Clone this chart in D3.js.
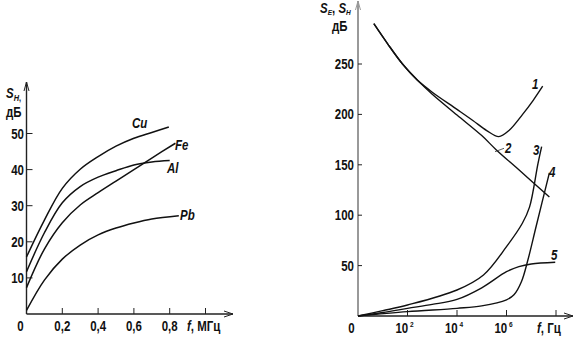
<!DOCTYPE html>
<html><head><meta charset="utf-8">
<script src="https://cdn.jsdelivr.net/npm/d3@7/dist/d3.min.js"></script>
<style>
body{margin:0;background:#fff;}
svg{display:block;}
text{font-family:"Liberation Sans Narrow","Arial Narrow","Liberation Sans",Arial,sans-serif;font-weight:bold;fill:#111;}
</style></head><body>
<svg id="c" width="578" height="338"></svg>
<script>
// ---------- Left chart data (S_H, dB vs f, MHz) ----------
const leftSeries = ["Cu", "Fe", "Al", "Pb"];
const cuF = [0, 0.1, 0.2, 0.3, 0.4, 0.5, 0.6, 0.7, 0.795];
const cuS = [15.8, 26.0, 34.8, 40.1, 43.6, 46.5, 48.7, 50.3, 51.8];
const feF = [0, 0.1, 0.2, 0.3, 0.4, 0.5, 0.6, 0.7, 0.832];
const feS = [7.3, 18.0, 25.3, 30.2, 33.6, 36.8, 40.0, 43.2, 47.3];
const alF = [0, 0.1, 0.2, 0.3, 0.4, 0.5, 0.6, 0.7, 0.80];
const alS = [11.7, 22.5, 30.8, 35.3, 37.9, 39.7, 41.3, 42.1, 42.5];
const pbF = [0, 0.1, 0.2, 0.3, 0.4, 0.5, 0.6, 0.7, 0.851];
const pbS = [1.0, 9.4, 15.2, 19.1, 21.9, 23.8, 25.2, 26.3, 27.2];
const leftXTicks = [0.2, 0.4, 0.6, 0.8, 1.0];
const leftXTickLabels = ["0,2", "0,4", "0,6", "0,8", ""];
const leftYTicks = [10, 20, 30, 40, 50];

// ---------- Right chart data (S_E, S_H, dB vs f, Hz) ----------
const rightSeries = ["1", "2", "3", "4", "5"];
const c1F = [4.37, 15.8, 63, 251, 1000, 1e4, 43650, 158500, 490000, 1.26e6, 4.47e6, 1.2e7, 2.9e7];
const c1S = [290, 270, 250, 234, 222, 205, 194, 184, 178, 184, 200, 214, 228];
const c2F = [4.37, 15.8, 63, 251, 1000, 1e4, 1e5, 380000, 3.16e6, 5.4e7];
const c2S = [290, 270, 250, 234, 220, 199.4, 179, 165, 145, 118];
const c3F = [1, 10, 100, 1e4, 117500, 1e6, 4.37e6, 8.5e6, 1.86e7, 2.63e7];
const c3S = [0, 5.3, 10.9, 25.8, 40.7, 68.8, 92, 108, 151, 168];
const c4F = [1, 100, 1e4, 1e5, 1e6, 2e6, 4e6, 7.4e6, 1.58e7, 5.4e7];
const c4S = [0, 4.3, 7.6, 10, 16, 21, 34, 56, 89, 142];
const c5F = [1, 10, 100, 1000, 1e4, 1e5, 1e6, 3.16e6, 1e7, 9.3e7];
const c5S = [0, 3.5, 7.6, 11.5, 16.5, 28, 44, 49, 51.6, 53.3];
const rightXTicks = [100, 1e4, 1e6, 1e8];
const rightXTickExp = ["2", "4", "6", ""];
const rightYTicks = [50, 100, 150, 200, 250];

const svg = d3.select("#c");
const SX = 0.82;

function T(g, x, y, size, anchor) {
  return g.append("text").attr("transform", `translate(${x},${y}) scale(${SX},1)`)
    .attr("font-size", size).attr("text-anchor", anchor || "start");
}
function arrowH(g, x, y) {
  g.append("path").attr("d", `M${x-9},${y-3}L${x},${y}L${x-9},${y+3}`)
    .attr("fill", "none").attr("stroke", "#222").attr("stroke-width", 1);
}
function arrowV(g, x, y, color) {
  g.append("path").attr("d", `M${x-2.5},${y+9}L${x},${y}L${x+2.5},${y+9}`)
    .attr("fill", "none").attr("stroke", color).attr("stroke-width", 1);
}

// ================= LEFT =================
{
  const x = d3.scaleLinear().domain([0, 1]).range([26.5, 205.5]);
  const y = d3.scaleLinear().domain([0, 50]).range([314, 133.5]);
  const g = svg.append("g");

  g.append("line").attr("x1", x(0)).attr("x2", 233).attr("y1", y(0)).attr("y2", y(0))
    .attr("stroke", "#222").attr("stroke-width", 1.4);
  arrowH(g, 233, y(0));
  g.append("line").attr("x1", x(0)).attr("x2", x(0)).attr("y1", y(0)).attr("y2", 82)
    .attr("stroke", "#222").attr("stroke-width", 1.4);
  arrowV(g, x(0), 82, "#222");

  leftXTicks.forEach((t, i) => {
    g.append("line").attr("x1", x(t)).attr("x2", x(t)).attr("y1", y(0)).attr("y2", y(0) - 6)
      .attr("stroke", "#222").attr("stroke-width", 1);
    if (leftXTickLabels[i]) T(g, x(t), 331, 14, "middle").text(leftXTickLabels[i]);
  });
  T(g, 20.5, 331, 14, "middle").text("0");
  const fl = T(g, 187, 331, 14);
  fl.append("tspan").attr("font-style", "italic").text("f");
  fl.append("tspan").text(", МГц");

  leftYTicks.forEach(t => {
    g.append("line").attr("x1", x(0)).attr("x2", x(0) + 6).attr("y1", y(t)).attr("y2", y(t))
      .attr("stroke", "#222").attr("stroke-width", 1);
    T(g, 24, y(t) + 5, 14, "end").text(t);
  });

  const yl = T(g, 6, 98, 14);
  yl.append("tspan").attr("font-style", "italic").text("S");
  yl.append("tspan").attr("font-size", 9).attr("font-style", "italic").attr("dy", 3).text("H");
  yl.append("tspan").attr("font-size", 9).text(",");
  T(g, 6, 117, 14).text("дБ");

  const line = d3.line().x(d => x(d[0])).y(d => y(d[1])).curve(d3.curveCatmullRom.alpha(0.5));
  const data = [[cuF, cuS], [feF, feS], [alF, alS], [pbF, pbS]];
  data.forEach(([fs, ss]) => {
    g.append("path").attr("d", line(fs.map((f, i) => [f, ss[i]])))
      .attr("fill", "none").attr("stroke", "#111").attr("stroke-width", 1.5);
  });
  const labPos = [[132, 128], [175, 150], [167, 173], [180, 220]];
  leftSeries.forEach((s, i) => {
    T(g, labPos[i][0], labPos[i][1], 14).attr("font-style", "italic").text(s);
  });
}

// ================= RIGHT =================
{
  const x = d3.scaleLog().domain([1, 1e8]).range([358, 556]);
  const y = d3.scaleLinear().domain([0, 250]).range([316, 64]);
  const g = svg.append("g");

  g.append("line").attr("x1", x(1)).attr("x2", 573).attr("y1", y(0)).attr("y2", y(0))
    .attr("stroke", "#222").attr("stroke-width", 1.4);
  arrowH(g, 573, y(0));
  g.append("line").attr("x1", x(1)).attr("x2", x(1)).attr("y1", y(0)).attr("y2", 1)
    .attr("stroke", "#999").attr("stroke-width", 2);
  arrowV(g, x(1), 1, "#999");

  rightXTicks.forEach((t, i) => {
    g.append("line").attr("x1", x(t)).attr("x2", x(t)).attr("y1", y(0)).attr("y2", y(0) - 6)
      .attr("stroke", "#222").attr("stroke-width", 1);
    if (rightXTickExp[i]) {
      const tl = T(g, x(t) - 3, 333, 14, "middle");
      tl.append("tspan").text("10");
      tl.append("tspan").attr("font-size", 8).attr("dy", -6).attr("dx", 2).text(rightXTickExp[i]);
    }
  });
  T(g, 351.5, 333, 14, "middle").text("0");
  const fl = T(g, 537, 333, 14);
  fl.append("tspan").attr("font-style", "italic").text("f");
  fl.append("tspan").text(", Гц");

  rightYTicks.forEach(t => {
    g.append("line").attr("x1", x(1)).attr("x2", x(1) + 4).attr("y1", y(t)).attr("y2", y(t))
      .attr("stroke", "#222").attr("stroke-width", 1);
    T(g, 354, y(t) + 5, 14, "end").text(t);
  });

  const yl = T(g, 320, 13, 14);
  yl.append("tspan").attr("font-style", "italic").text("S");
  yl.append("tspan").attr("font-size", 8).attr("font-style", "italic").attr("dy", 2).text("E");
  yl.append("tspan").attr("dy", -2).text(", ");
  yl.append("tspan").attr("font-style", "italic").text("S");
  yl.append("tspan").attr("font-size", 8).attr("font-style", "italic").attr("dy", 2).text("H");
  T(g, 332, 31, 14).text("дБ");

  const line = d3.line().x(d => x(d[0])).y(d => y(d[1])).curve(d3.curveCatmullRom.alpha(0.5));
  const data = [[c1F, c1S], [c2F, c2S], [c3F, c3S], [c4F, c4S], [c5F, c5S]];
  data.forEach(([fs, ss]) => {
    g.append("path").attr("d", line(fs.map((f, i) => [f, ss[i]])))
      .attr("fill", "none").attr("stroke", "#111").attr("stroke-width", 1.4);
  });
  g.append("line").attr("x1", 495).attr("y1", 151.7).attr("x2", 504).attr("y2", 148.3)
    .attr("stroke", "#333").attr("stroke-width", 0.8);
  const labPos = [[532, 89], [505, 153], [533, 155], [549, 177], [551, 260]];
  rightSeries.forEach((s, i) => {
    T(g, labPos[i][0], labPos[i][1], 14).attr("font-style", "italic").text(s);
  });
}
</script>
</body></html>
